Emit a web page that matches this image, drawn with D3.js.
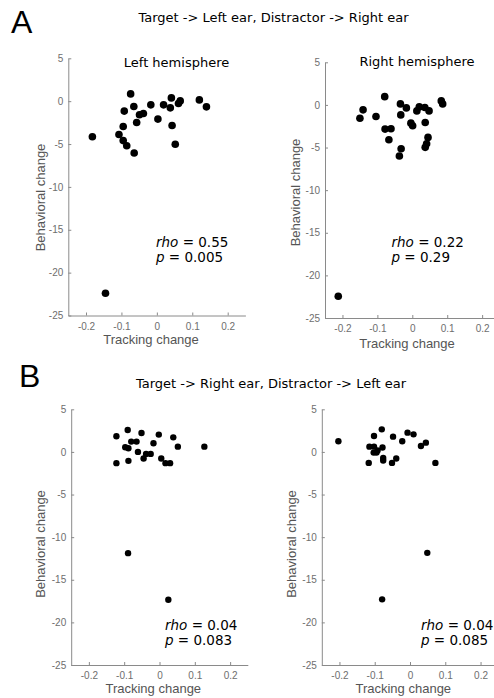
<!DOCTYPE html>
<html>
<head>
<meta charset="utf-8">
<script src="https://cdnjs.cloudflare.com/ajax/libs/d3/7.8.5/d3.min.js"></script>
<style>
  body { margin: 0; background: #fff; }
  .tick text { font-family: "Liberation Sans", Arial, sans-serif; font-size: 10px; fill: #6e6e6e; }
  .domain, .tick line { stroke: #8a8a8a; }
</style>
</head>
<body>
<div id="chart"></div>
<script>
// axis ticks
const xTicks = [-0.2, -0.1, 0, 0.1, 0.2];
const xTickLabels = ["-0.2", "-0.1", "0", "0.1", "0.2"];
const yTicks = [5, 0, -5, -10, -15, -20, -25];
const yTickLabels = ["5", "0", "-5", "-10", "-15", "-20", "-25"];

// A: target -> left ear
const aLeftX = [-0.182, -0.145, -0.074, -0.092, -0.065, -0.095, -0.107, -0.095, -0.085, -0.064, -0.057, -0.049,
                -0.038, -0.017, 0.003, 0.019, 0.041, 0.038, 0.043, 0.052, 0.061, 0.066, 0.12, 0.14];
const aLeftY = [-4.15, -22.4, 0.85, -1.16, -0.62, -2.95, -3.88, -4.6, -5.2, -6.05, -2.48, -1.59,
                -1.43, -0.43, -2.09, -0.43, 0.38, -0.78, -2.83, -5.03, -0.27, 0.03, 0.15, -0.66];
const aRightX = [-0.212, -0.150, -0.141, -0.104, -0.079, -0.078, -0.061, -0.067, -0.034, -0.033, -0.017, -0.032,
                 -0.037, -0.004, 0.001, 0.013, 0.02, 0.036, 0.048, 0.037, 0.045, 0.041, 0.037, 0.083, 0.087];
const aRightY = [-22.45, -1.56, -0.58, -1.36, 0.97, -2.84, -2.8, -4.09, 0.12, -1.17, -0.35, -5.14,
                 -5.99, -2.14, -2.45, -0.7, -0.23, -0.31, -0.7, -2.06, -3.81, -4.55, -4.98, 0.47, 0.12];

// B: target -> right ear
const bLeftX = [-0.122, -0.122, -0.090, -0.097, -0.088, -0.088, -0.080, -0.065, -0.061, -0.051, -0.045, -0.038,
                -0.025, -0.017, -0.002, 0.005, 0.017, 0.030, 0.039, 0.052, 0.127, -0.089, 0.025];
const bLeftY = [1.83, -1.32, 2.57, 0.55, 0.43, -1.05, 1.21, 1.21, 0, 2.22, -0.78, -0.23,
                -0.23, 1.01, 2.03, -0.78, -1.32, -1.32, 1.71, 0.62, 0.62, -11.88, -17.34];
const bRightX = [-0.203, -0.117, -0.115, -0.102, -0.102, -0.103, -0.095, -0.092, -0.080, -0.078, -0.076, -0.076,
                 -0.051, -0.048, -0.039, -0.022, -0.007, 0.010, 0.031, 0.045, 0.072, 0.049, -0.079];
const bRightY = [1.25, -1.29, 0.62, 1.87, 0.62, -0.08, -0.08, 0.16, 2.65, 0.51, -0.70, -1.01,
                 -1.29, 1.79, -0.78, 1.25, 2.26, 2.06, 0.70, 1.09, -1.29, -11.84, -17.30];

const panelTitles = ["Left hemisphere", "Right hemisphere", "", ""];
const rhoValues = ["0.55", "0.22", "0.04", "0.04"];
const pValues = ["0.005", "0.29", "0.083", "0.085"];
const rowLetters = ["A", "B"];
const rowTitles = ["Target -> Left ear, Distractor -> Right ear",
                   "Target -> Right ear, Distractor -> Left ear"];
const xLabel = "Tracking change";
const yLabel = "Behavioral change";

const W = 494, H = 698;
const svg = d3.select("#chart").append("svg").attr("width", W).attr("height", H);

// panel layout (pixel boxes of the axes)
const panels = [
  {xs: aLeftX, ys: aLeftY, l: 68.3, r: 245.4, t: 58.3, b: 315.5, dot: 3.8,
   yl: [40, 197.5], xl: [151, 344], st: [156, 246.5], ti: [176.5, 67]},
  {xs: aRightX, ys: aRightY, l: 325, r: 499.6, t: 62.3, b: 318, dot: 3.8,
   yl: [295, 192.5], xl: [407, 348], st: [391.5, 246.5], ti: [417, 66]},
  {xs: bLeftX, ys: bLeftY, l: 71.2, r: 247.8, t: 409.3, b: 665, dot: 3.2,
   yl: [40.7, 544], xl: [153.3, 693], st: [165, 630], ti: null},
  {xs: bRightX, ys: bRightY, l: 321.8, r: 498.2, t: 409.3, b: 665, dot: 3.2,
   yl: [291, 544], xl: [403.3, 693], st: [421, 630], ti: null}
];

panels.forEach((p, i) => {
  const x = d3.scaleLinear().domain([-0.25, 0.25]).range([p.l, p.r]);
  const y = d3.scaleLinear().domain([-25, 5]).range([p.b, p.t]);
  const g = svg.append("g");

  g.append("g")
    .attr("transform", `translate(0,${p.b})`)
    .call(d3.axisBottom(x).tickValues(xTicks).tickFormat((d, j) => xTickLabels[j])
      .tickSizeInner(-3).tickSizeOuter(0).tickPadding(7));
  g.append("g")
    .attr("transform", `translate(${p.l},0)`)
    .call(d3.axisLeft(y).tickValues(yTicks).tickFormat((d, j) => yTickLabels[j])
      .tickSizeInner(-3).tickSizeOuter(0).tickPadding(5));

  g.selectAll("circle.pt")
    .data(p.xs.map((v, j) => [v, p.ys[j]]))
    .enter().append("circle")
    .attr("class", "pt")
    .attr("cx", d => x(d[0]))
    .attr("cy", d => y(d[1]))
    .attr("r", p.dot)
    .attr("fill", "#000");

  g.append("text")
    .attr("transform", `translate(${p.yl[0]},${p.yl[1]}) rotate(-90)`)
    .attr("text-anchor", "middle")
    .attr("dominant-baseline", "central")
    .style("font-family", "Liberation Sans, Arial, sans-serif")
    .style("font-size", "13px")
    .attr("fill", "#555")
    .text(yLabel);

  g.append("text")
    .attr("x", p.xl[0]).attr("y", p.xl[1])
    .attr("text-anchor", "middle")
    .style("font-family", "Liberation Sans, Arial, sans-serif")
    .style("font-size", "13px")
    .attr("fill", "#555")
    .text(xLabel);

  if (p.ti) {
    g.append("text")
      .attr("x", p.ti[0]).attr("y", p.ti[1])
      .attr("text-anchor", "middle")
      .style("font-family", "DejaVu Sans, sans-serif")
      .style("font-size", "13px")
      .attr("fill", "#000")
      .text(panelTitles[i]);
  }

  // stats
  const st = g.append("g")
    .style("font-family", "DejaVu Sans, sans-serif")
    .style("font-size", "13.5px")
    .attr("fill", "#000");
  const l1 = st.append("text").attr("x", p.st[0]).attr("y", p.st[1]);
  l1.append("tspan").style("font-style", "italic").text("rho");
  l1.append("tspan").text(" = " + rhoValues[i]);
  const l2 = st.append("text").attr("x", p.st[0]).attr("y", p.st[1] + 15);
  l2.append("tspan").style("font-style", "italic").text("p");
  l2.append("tspan").text(" = " + pValues[i]);
});

// row letters and titles
const rowY = [[33, 22], [387, 388]];
rowLetters.forEach((L, i) => {
  svg.append("text")
    .attr("x", i === 0 ? 11 : 19).attr("y", rowY[i][0])
    .style("font-family", "Liberation Sans, Arial, sans-serif")
    .style("font-size", "32px")
    .attr("fill", "#000")
    .text(L);
  svg.append("text")
    .attr("x", i === 0 ? 273.5 : 271).attr("y", rowY[i][1])
    .attr("text-anchor", "middle")
    .style("font-family", "DejaVu Sans, sans-serif")
    .style("font-size", "13px")
    .attr("fill", "#000")
    .text(rowTitles[i]);
});
</script>
</body>
</html>
